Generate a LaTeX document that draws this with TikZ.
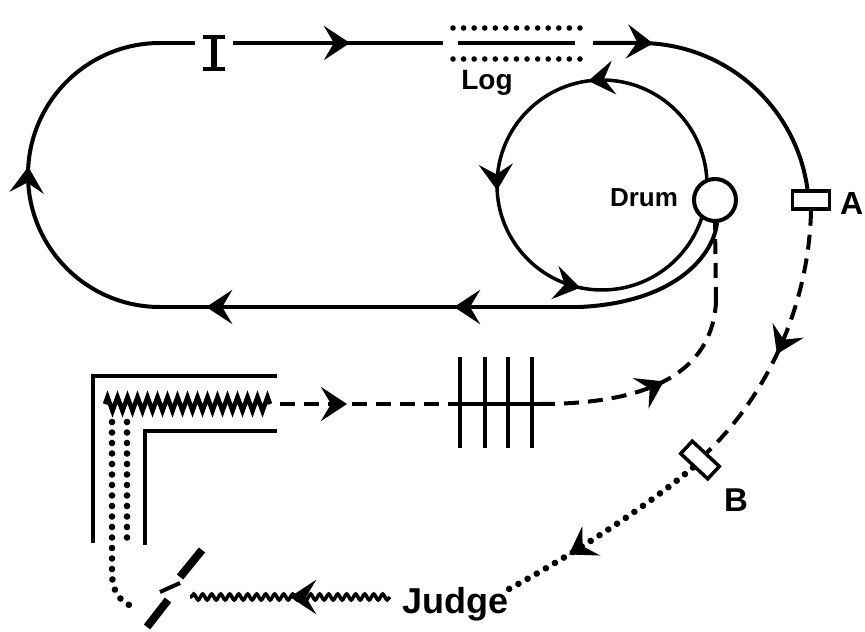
\documentclass[tikz,border=0pt]{standalone}
\usepackage{fontspec}
\setmainfont{Liberation Sans}
\usetikzlibrary{arrows.meta,decorations.markings,decorations.pathmorphing}

\tikzset{
  >={Stealth[length=26pt,width=34pt,inset=10pt]},
  flow/.style={postaction={decorate,decoration={markings,mark=at position #1 with {\arrow{>}}}}},
  dashline/.style={dash pattern=on 15pt off 9pt},
  dotline/.style={postaction={decorate,decoration={markings,
    mark=between positions 0 and 1 step 10.5pt with {\fill (0,0) circle (3.3pt);}}}},
  logdots/.style={postaction={decorate,decoration={markings,
    mark=between positions 0 and 1 step 10.58pt with {\fill (0,0) circle (2.8pt);}}}},
  tag/.style={font=\bfseries\fontsize{#1}{#1}\selectfont, inner sep=0pt},
  box/.style={draw, fill=white, line width=3.5pt, minimum width=37pt, minimum height=18pt, inner sep=0pt},
}

\begin{document}
\begin{tikzpicture}[x=1pt, y=1pt, line width=4pt]
  \useasboundingbox (0,0) rectangle (865,632);

  \coordinate (botR) at (580,325);
  \coordinate (botL) at (160,325);
  \coordinate (topL) at (160,589);
  \coordinate (logA) at (443,589);
  \coordinate (logB) at (593,589);
  \coordinate (bend) at (640,589);
  \coordinate (judgeR) at (507,42);
  \coordinate (waveR) at (390,35);
  \coordinate (waveL) at (190,35);
  \coordinate (chanEnd) at (134,25);
  \coordinate (springL) at (105,228);
  \coordinate (springR) at (270,228);
  \coordinate (gateL) at (455,228);
  \coordinate (gateR) at (540,228);
  \coordinate (rise) at (716,330);

  % inner loop round the drum
  \draw[line width=3.5pt, flow=0.271, flow=0.508, flow=0.717] (602,447) circle (105);

  \node[draw, circle, fill=white, minimum size=42pt, inner sep=0pt] (drum) at (715,432) {};
  \node[tag=26, anchor=base] (drumtext) at (644,425) {Drum};

  % outer loop
  \draw (drum.-85) .. controls (714,380) and (680,330) .. (botR);
  \draw[flow=0.3, flow=0.89] (botR) -- (botL);
  \draw[flow=0.52] (botL) arc[start angle=270, end angle=90, radius=132];
  \draw (topL) -- (195,589);
  \draw[line width=6pt] (214,563) -- (214,595);
  \draw (203,563) -- (225,563) (203,595) -- (225,595);
  \draw[flow=0.557] (233,589) -- (logA);
  \draw (458,589) -- (575,589);
  \path[logdots] (453,604) -- (580,604);
  \path[logdots] (453,573) -- (580,573);
  \node[tag=28, anchor=base] (logtext) at (487,542) {Log};
  \draw[flow=0.207] (logB) -- (bend) arc[start angle=90, end angle=7.5, radius=169];

  \node[box] (boxA) at (811,432) {};
  \node[tag=32, anchor=base west] (Atext) at (838,417) {A};

  \node[box, rotate=-43, minimum height=17pt] (boxB) at (700,172) {};
  \node[tag=33, anchor=base west] (Btext) at (722,120) {B};

  \draw[dashline, flow=0.55] (boxA.south) .. controls (809,330) and (770,240) .. (boxB.north);
  \path[dotline, flow=0.68] (boxB.south) .. controls (640,120) and (560,70) .. (judgeR);

  \node[tag=36, anchor=base west] (judge) at (400,19) {Judge};

  % judge back to the channel
  \draw[line width=3.5pt, decorate, decoration={snake, amplitude=3pt, segment length=9pt}] (waveR) -- (waveL);
  \path[flow=0.5] (waveR) -- (waveL);
  \draw[line width=8pt] (147,5) -- (168,32) (180,55) -- (202,82);
  \draw (160,40) -- (180,49);

  \path[dotline] (112,210) -- (112,60) .. controls (112,40) and (120,30) .. (chanEnd);
  \path[dotline] (127,210) -- (127,85);

  \draw[line width=4.5pt] (277,256) -- (93,256) -- (93,89);
  \draw[line width=4.5pt] (277,201) -- (145,201) -- (145,87);
  \draw[line width=4.5pt, decorate, decoration={zigzag, segment length=10pt, amplitude=7pt}] (springL) -- (springR);

  % back to the drum
  \draw[dashline, flow=0.383] (280,228) -- (gateL);
  \draw (gateL) -- (gateR);
  \foreach \x in {460,485,508,532}
    \draw (\x,184) -- (\x,275);
  \draw[dashline, flow=0.56] (gateR) .. controls (650,228) and (712,260) .. (rise);
  \draw[dashline] (rise) -- (drum.south);
\end{tikzpicture}
\end{document}
